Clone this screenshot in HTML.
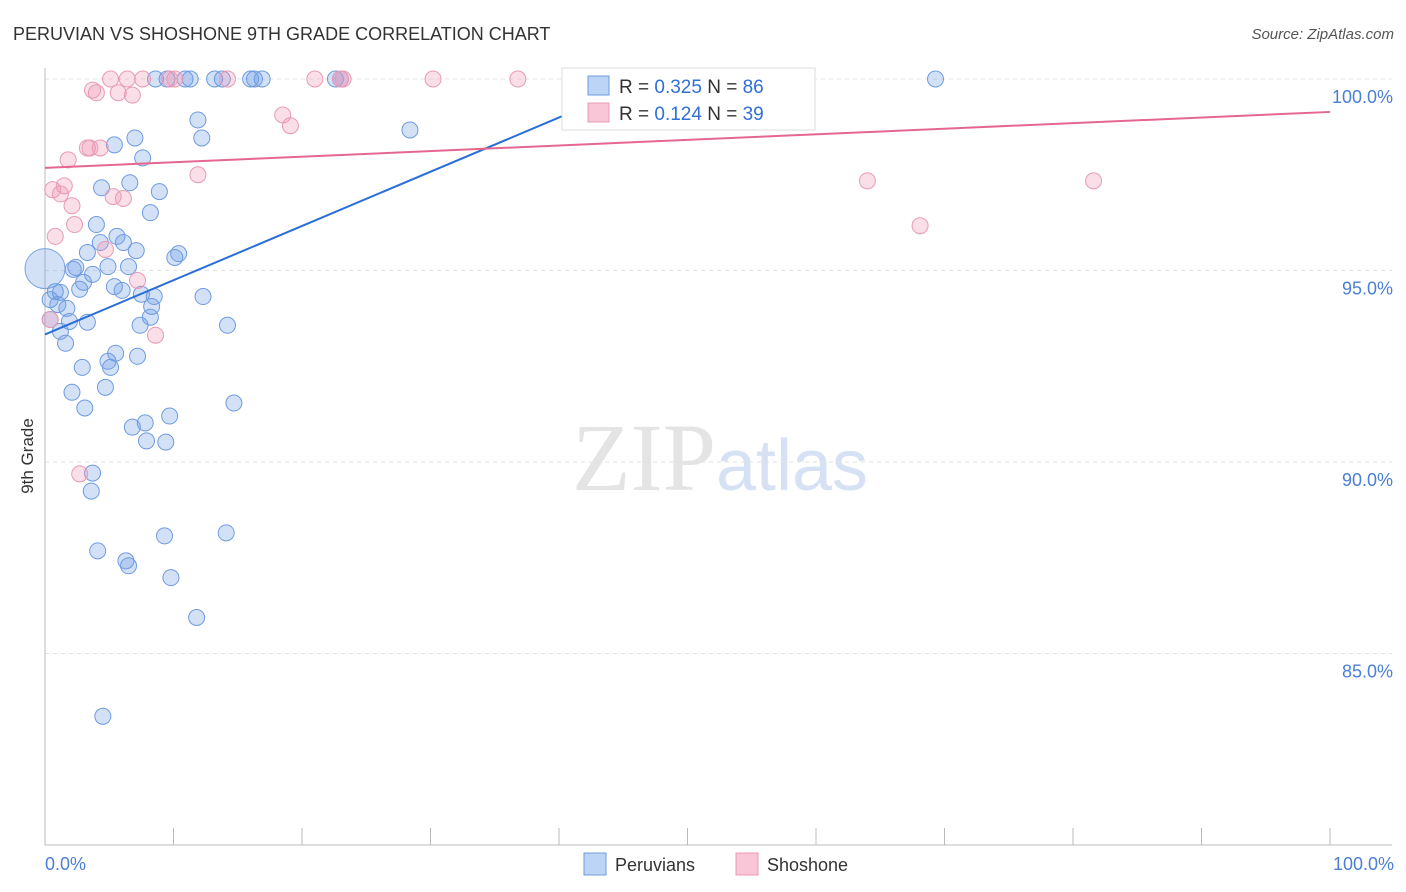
<!DOCTYPE html>
<html><head><meta charset="utf-8"><style>
body{margin:0;background:#fff;font-family:"Liberation Sans",sans-serif;}
svg{display:block}
</style></head><body>
<svg id="chart" width="1406" height="892" xmlns="http://www.w3.org/2000/svg">
<text x="13" y="40" font-size="18" fill="#333">PERUVIAN VS SHOSHONE 9TH GRADE CORRELATION CHART</text>
<text x="1394" y="39" font-size="15" fill="#555" text-anchor="end" font-style="italic">Source: ZipAtlas.com</text>
<text x="720" y="490" font-size="96" text-anchor="middle" fill="#e4e4e4" font-family="Liberation Serif">ZIP<tspan fill="#d6e2f4" font-family="Liberation Sans" font-size="72">atlas</tspan></text>
<g id="grid"></g><g id="axes"></g><g id="pts"></g><g id="trend"></g>
<text transform="translate(33,456) rotate(-90)" font-size="17" fill="#333" text-anchor="middle">9th Grade</text>
<text x="45" y="870" font-size="18" fill="#4a7fd6">0.0%</text>
<text x="1394" y="870" font-size="18" fill="#4a7fd6" text-anchor="end">100.0%</text>
<g>
<rect x="562" y="68" width="253" height="62" fill="#fff" stroke="#ddd"/>
<rect x="588" y="76" width="21" height="19" fill="#bcd4f6" stroke="#6f9be0"/>
<text x="619" y="93" font-size="19" fill="#333">R = <tspan fill="#2f6fd6">0.325</tspan>   N = <tspan fill="#2f6fd6">86</tspan></text>
<rect x="588" y="103" width="21" height="19" fill="#f8c6d6" stroke="#e89ab5"/>
<text x="619" y="120" font-size="19" fill="#333">R =  <tspan fill="#2f6fd6">0.124</tspan>   N = <tspan fill="#2f6fd6">39</tspan></text>
</g>
<g><rect x="584" y="853" width="22" height="22" fill="#bcd4f6" stroke="#6f9be0"/><text x="615" y="871" font-size="18" fill="#333">Peruvians</text></g>
<g><rect x="736" y="853" width="22" height="22" fill="#f8c6d6" stroke="#e89ab5"/><text x="767" y="871" font-size="18" fill="#333">Shoshone</text></g>
</svg>
<script>
const yTicks=[100,95,90,85];
const yTickLabels=["100.0%","95.0%","90.0%","85.0%"];
const xTicks=[0,10,20,30,40,50,60,70,80,90,100];
const peruX=[8.6,9.5,10.9,11.3,13.2,13.8,16.0,16.3,16.9,22.6,23.0,69.3,11.9,12.2,7.0,5.4,7.6,28.4,4.4,6.6,8.9,8.2,4.0,5.6,4.3,6.1,7.1,3.3,10.4,10.1,2.4,4.9,6.5,2.2,3.7,3.0,2.7,5.4,6.0,7.5,8.5,12.3,0.8,1.2,0.4,1.0,1.7,8.3,8.2,3.3,1.9,7.4,14.2,0.4,1.2,1.6,5.5,7.2,4.9,5.1,2.9,4.7,2.1,14.7,3.1,9.7,7.8,6.8,7.9,9.4,3.7,3.6,9.3,14.1,4.1,6.3,6.5,9.8,11.8,4.5];
const peruY=[100,100,100,100,100,100,100,100,100,100,100,100,98.93,98.46,98.46,98.28,97.94,98.67,97.16,97.29,97.06,96.51,96.2,95.89,95.73,95.73,95.52,95.47,95.44,95.34,95.08,95.1,95.1,95.03,94.9,94.69,94.51,94.58,94.48,94.38,94.32,94.32,94.45,94.43,94.24,94.11,94.01,94.06,93.78,93.65,93.67,93.57,93.57,93.72,93.41,93.1,92.84,92.76,92.63,92.47,92.47,91.95,91.82,91.54,91.41,91.2,91.02,90.91,90.55,90.52,89.71,89.24,88.07,88.15,87.68,87.42,87.29,86.98,85.94,83.36];
const shosX=[5.1,6.4,7.6,9.7,10.1,14.2,21.0,23.0,23.2,30.2,36.8,3.7,4.0,5.7,6.8,18.5,19.1,3.3,3.5,4.3,1.8,1.5,0.6,1.2,5.3,6.1,2.1,2.3,0.8,11.9,64.0,81.6,68.1,4.7,7.2,8.6,0.4,2.7];
const shosY=[100,100,100,100,100,100,100,100,100,100,100,99.71,99.64,99.64,99.58,99.06,98.78,98.2,98.2,98.2,97.89,97.21,97.11,97.0,96.93,96.88,96.69,96.2,95.89,97.5,97.34,97.34,96.17,95.55,94.74,93.31,93.72,89.69];
const peruTrend=[93.33,100];const peruTrendX=[0,47.1];
const shosTrend=[97.68,99.14];const shosTrendX=[0,100];
const X0=45,X1=1330,YB=845,YT=79;
const sx=v=>X0+(X1-X0)*v/100;
const sy=v=>YB-(YB-YT)*(v-80)/20;
const NS="http://www.w3.org/2000/svg";
function mk(t,a,p){const e=document.createElementNS(NS,t);for(const k in a)e.setAttribute(k,a[k]);document.getElementById(p).appendChild(e);return e;}
yTicks.forEach((v,i)=>{
 const l=mk('line',{x1:X0,x2:1392,y1:sy(v),y2:sy(v),stroke:'#e2e2e2','stroke-dasharray':'4,4'},'grid');
 
 
 const t=mk('text',{x:1393,y:sy(v)+24,'font-size':18,fill:'#4a7fd6','text-anchor':'end'},'grid');
 t.textContent=yTickLabels[i];
 
 
});
const ax=mk('line',{x1:X0,x2:1392,y1:YB,y2:YB,stroke:'#bbb'},'axes');


const ay=mk('line',{x1:X0,x2:X0,y1:68,y2:YB,stroke:'#bbb'},'axes');


xTicks.forEach(v=>{
 const t=mk('line',{x1:sx(v),x2:sx(v),y1:828,y2:YB,stroke:'#bbb'},'axes');
 
 
});
const big=mk('circle',{cx:sx(0),cy:sy(95.05),r:20,fill:'rgba(110,155,230,0.3)',stroke:'#7aa3e3'},'pts');


peruX.forEach((x,i)=>{
 const c=mk('circle',{cx:sx(x),cy:sy(peruY[i]),r:8,fill:'rgba(110,155,230,0.3)',stroke:'#6f9be0','stroke-width':1},'pts');
 
 
});
shosX.forEach((x,i)=>{
 const c=mk('circle',{cx:sx(x),cy:sy(shosY[i]),r:8,fill:'rgba(240,150,180,0.3)',stroke:'#e89ab5','stroke-width':1},'pts');
 
 
});
const t1=mk('line',{x1:sx(peruTrendX[0]),y1:sy(peruTrend[0]),x2:sx(peruTrendX[1]),y2:sy(peruTrend[1]),stroke:'#2a6fd8','stroke-width':2},'trend');


const t2=mk('line',{x1:sx(shosTrendX[0]),y1:sy(shosTrend[0]),x2:sx(shosTrendX[1]),y2:sy(shosTrend[1]),stroke:'#e5678f','stroke-width':2},'trend');


</script>
</body></html>
